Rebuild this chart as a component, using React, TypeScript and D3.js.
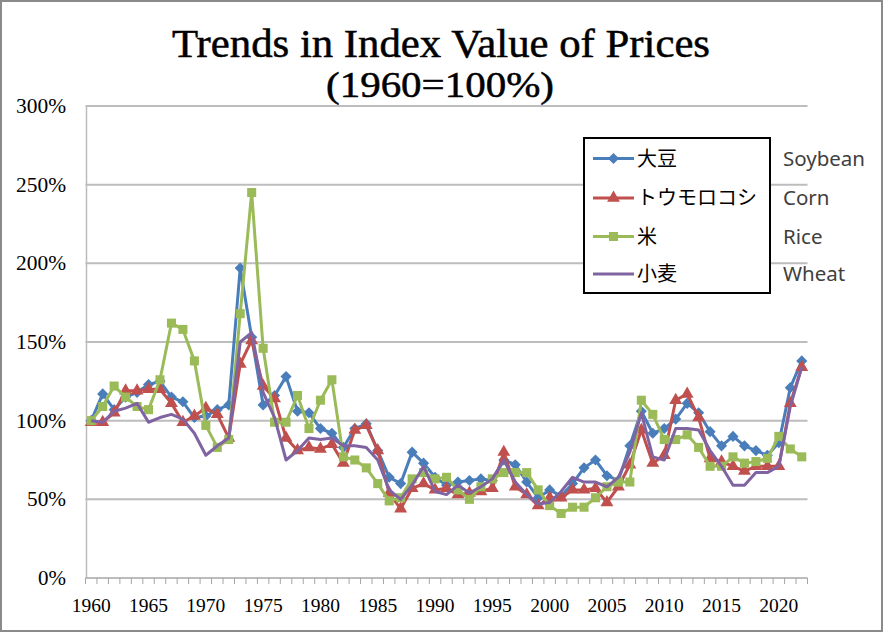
import React from "react";
import * as d3 from "d3";

const years: number[] = d3.range(1960, 2023);

const soybean: number[] = [
  100, 117, 107, 115, 118, 123, 125, 115, 112, 102,
  103, 107, 110, 197, 153, 110, 116, 128, 106, 105,
  95, 92, 83, 95, 98, 81, 64, 60, 80, 73,
  64, 59, 61, 62, 63, 62, 75, 72, 61, 51,
  56, 52, 60, 70, 75, 65, 62, 84, 106, 92,
  95, 101, 111, 105, 93, 84, 90, 84, 81, 78,
  86, 121, 138,
];

const corn: number[] = [
  99, 99, 105, 119, 119, 120, 120, 111, 99, 103,
  108, 104, 89, 136, 151, 122, 114, 89, 81, 83,
  82, 85, 73, 94, 97, 81, 54, 44, 57, 60,
  56, 57, 53, 54, 55, 57, 80, 58, 53, 46,
  51, 51, 56, 56, 57, 48, 58, 72, 94, 73,
  78, 113, 117, 102, 76, 74, 71, 68, 71, 71,
  71, 111, 134,
];

const rice: number[] = [
  100, 109, 122, 115, 109, 107, 126, 162, 158, 138,
  97, 83, 88, 168, 245, 146, 99, 99, 116, 95,
  113, 126, 77, 75, 70, 60, 49, 51, 63, 67,
  63, 64, 56, 50, 58, 63, 67, 67, 67, 56,
  46, 41, 45, 45, 51, 58, 61, 61, 113, 104,
  88, 88, 91, 83, 71, 71, 77, 73, 74, 76,
  90, 82, 77,
];

const wheat: number[] = [
  100, 99, 106, 108, 111, 99, 102, 104, 101, 92,
  78, 84, 89, 150, 156, 118, 102, 75, 81, 89,
  88, 89, 84, 84, 83, 75, 56, 50, 59, 71,
  55, 53, 59, 54, 58, 63, 75, 61, 53, 47,
  48, 55, 64, 61, 61, 58, 64, 80, 105, 77,
  75, 95, 95, 94, 81, 71, 59, 59, 67, 67,
  71, 109, 134,
];

const seriesNames: string[] = ["大豆", "トウモロコシ", "米", "小麦"];
const englishNames: string[] = ["Soybean", "Corn", "Rice", "Wheat"];
const seriesColors: string[] = ["#4a7ebb", "#c0504d", "#9bbb59", "#8064a2"];
const markerTypes: string[] = ["diamond", "triangle", "square", "none"];
const yTicks: number[] = [0, 50, 100, 150, 200, 250, 300];
const xLabelYears: number[] = [1960, 1965, 1970, 1975, 1980, 1985, 1990, 1995, 2000, 2005, 2010, 2015, 2020];

const titleLine1 = "Trends in Index Value of Prices";
const titleLine2 = "(1960=100%)";

const W = 884;
const H = 633;
const plotLeft = 85.5;
const plotRight = 807.5;
const plotTop = 106;
const plotBottom = 578;

function markerPath(type: string): string | null {
  if (type === "diamond") return d3.symbol(d3.symbolSquare, 62)();
  if (type === "triangle") return d3.symbol(d3.symbolTriangle, 72)();
  if (type === "square") return d3.symbol(d3.symbolSquare, 82)();
  return null;
}

export default function App() {
  const x = d3.scaleBand<number>().domain(years).range([plotLeft, plotRight]).padding(0);
  const y = d3.scaleLinear().domain([0, 300]).range([plotBottom, plotTop]);
  const cx = (yr: number) => (x(yr) as number) + x.bandwidth() / 2;

  const allSeries = [soybean, corn, rice, wheat];
  const line = d3
    .line<number>()
    .x((_, i) => cx(years[i]))
    .y((v) => y(v));

  const tickXs = years.map((yr) => x(yr) as number).concat([plotRight]);

  const serif = "'Liberation Serif', 'Times New Roman', serif";
  const sans = "'Noto Sans CJK JP', 'Noto Sans', sans-serif";

  const legendRows = [158.5, 198, 236.5, 274];

  return (
    <svg
      width={W}
      height={H}
      style={{ position: "absolute", left: 0, top: 0, background: "#fff" }}
    >
      <rect x={0} y={0} width={W} height={H} fill="#fff" />
      <rect x={1} y={1} width={W - 3} height={H - 3} fill="none" stroke="#8a8a8a" strokeWidth={2} />

      {/* Title */}
      <text
        x={441}
        y={57}
        textAnchor="middle"
        fontFamily={serif}
        fontSize={39}
        textLength={538}
        lengthAdjust="spacingAndGlyphs"
        fill="#000"
        stroke="#000"
        strokeWidth={0.5}
      >
        {titleLine1}
      </text>
      <text
        x={440}
        y={97}
        textAnchor="middle"
        fontFamily={serif}
        fontSize={36}
        textLength={228}
        lengthAdjust="spacingAndGlyphs"
        fill="#000"
        stroke="#000"
        strokeWidth={0.5}
      >
        {titleLine2}
      </text>

      {/* Gridlines */}
      {yTicks.filter((t) => t > 0).map((t) => (
        <line
          key={"g" + t}
          x1={plotLeft}
          x2={plotRight}
          y1={y(t)}
          y2={y(t)}
          stroke="#bdbdbd"
          strokeWidth={2}
        />
      ))}

      {/* Y axis */}
      <line x1={plotLeft + 1} x2={plotLeft + 1} y1={plotTop} y2={plotBottom} stroke="#bdbdbd" strokeWidth={1.5} />
      {yTicks.map((t) => {
        const label = t + "%";
        return (
          <text
            key={"yl" + t}
            x={66}
            y={y(t) + 7}
            textAnchor="end"
            fontFamily={serif}
            fontSize={20}
            textLength={(label.length - 1) * 11 + 17}
            lengthAdjust="spacingAndGlyphs"
            fill="#000"
          >
            {label}
          </text>
        );
      })}

      {/* X axis */}
      <line x1={plotLeft} x2={plotRight} y1={plotBottom} y2={plotBottom} stroke="#a6a6a6" strokeWidth={1.5} />
      {tickXs.map((tx, i) => (
        <line
          key={"t" + i}
          x1={tx}
          x2={tx}
          y1={plotBottom}
          y2={plotBottom + 6}
          stroke="#a6a6a6"
          strokeWidth={1}
        />
      ))}
      {xLabelYears.map((yr) => (
        <text
          key={"xl" + yr}
          x={cx(yr)}
          y={612}
          textAnchor="middle"
          fontFamily={serif}
          fontSize={19.5}
          fill="#000"
        >
          {yr}
        </text>
      ))}

      {/* Series */}
      {allSeries.map((data, si) => {
        const mp = markerPath(markerTypes[si]);
        return (
          <g key={"s" + si}>
            <path d={line(data) as string} fill="none" stroke={seriesColors[si]} strokeWidth={3} strokeLinejoin="round" />
            {mp &&
              data.map((v, i) => (
                <path
                  key={i}
                  d={mp}
                  transform={
                    `translate(${cx(years[i])},${y(v)})` +
                    (markerTypes[si] === "diamond" ? " rotate(45)" : "")
                  }
                  fill={seriesColors[si]}
                />
              ))}
          </g>
        );
      })}

      {/* Legend */}
      <rect x={584} y={138} width={186} height={155} fill="#fff" stroke="#000" strokeWidth={2} />
      {seriesNames.map((name, si) => {
        const ly = legendRows[si];
        const mp = markerPath(markerTypes[si]);
        return (
          <g key={"lg" + si}>
            <line x1={593} x2={634} y1={ly} y2={ly} stroke={seriesColors[si]} strokeWidth={3} />
            {mp && (
              <path
                d={mp}
                transform={`translate(613.5,${ly})` + (markerTypes[si] === "diamond" ? " rotate(45)" : "")}
                fill={seriesColors[si]}
              />
            )}
            <text x={637} y={ly + 7} fontFamily={sans} fontSize={20} fill="#000">
              {name}
            </text>
          </g>
        );
      })}

      {/* English labels */}
      {englishNames.map((name, si) => (
        <text
          key={"en" + si}
          x={783}
          y={legendRows[si] + 7}
          fontFamily="'Noto Sans', sans-serif"
          fontSize={20.5}
          fill="#404040"
        >
          {name}
        </text>
      ))}
    </svg>
  );
}
